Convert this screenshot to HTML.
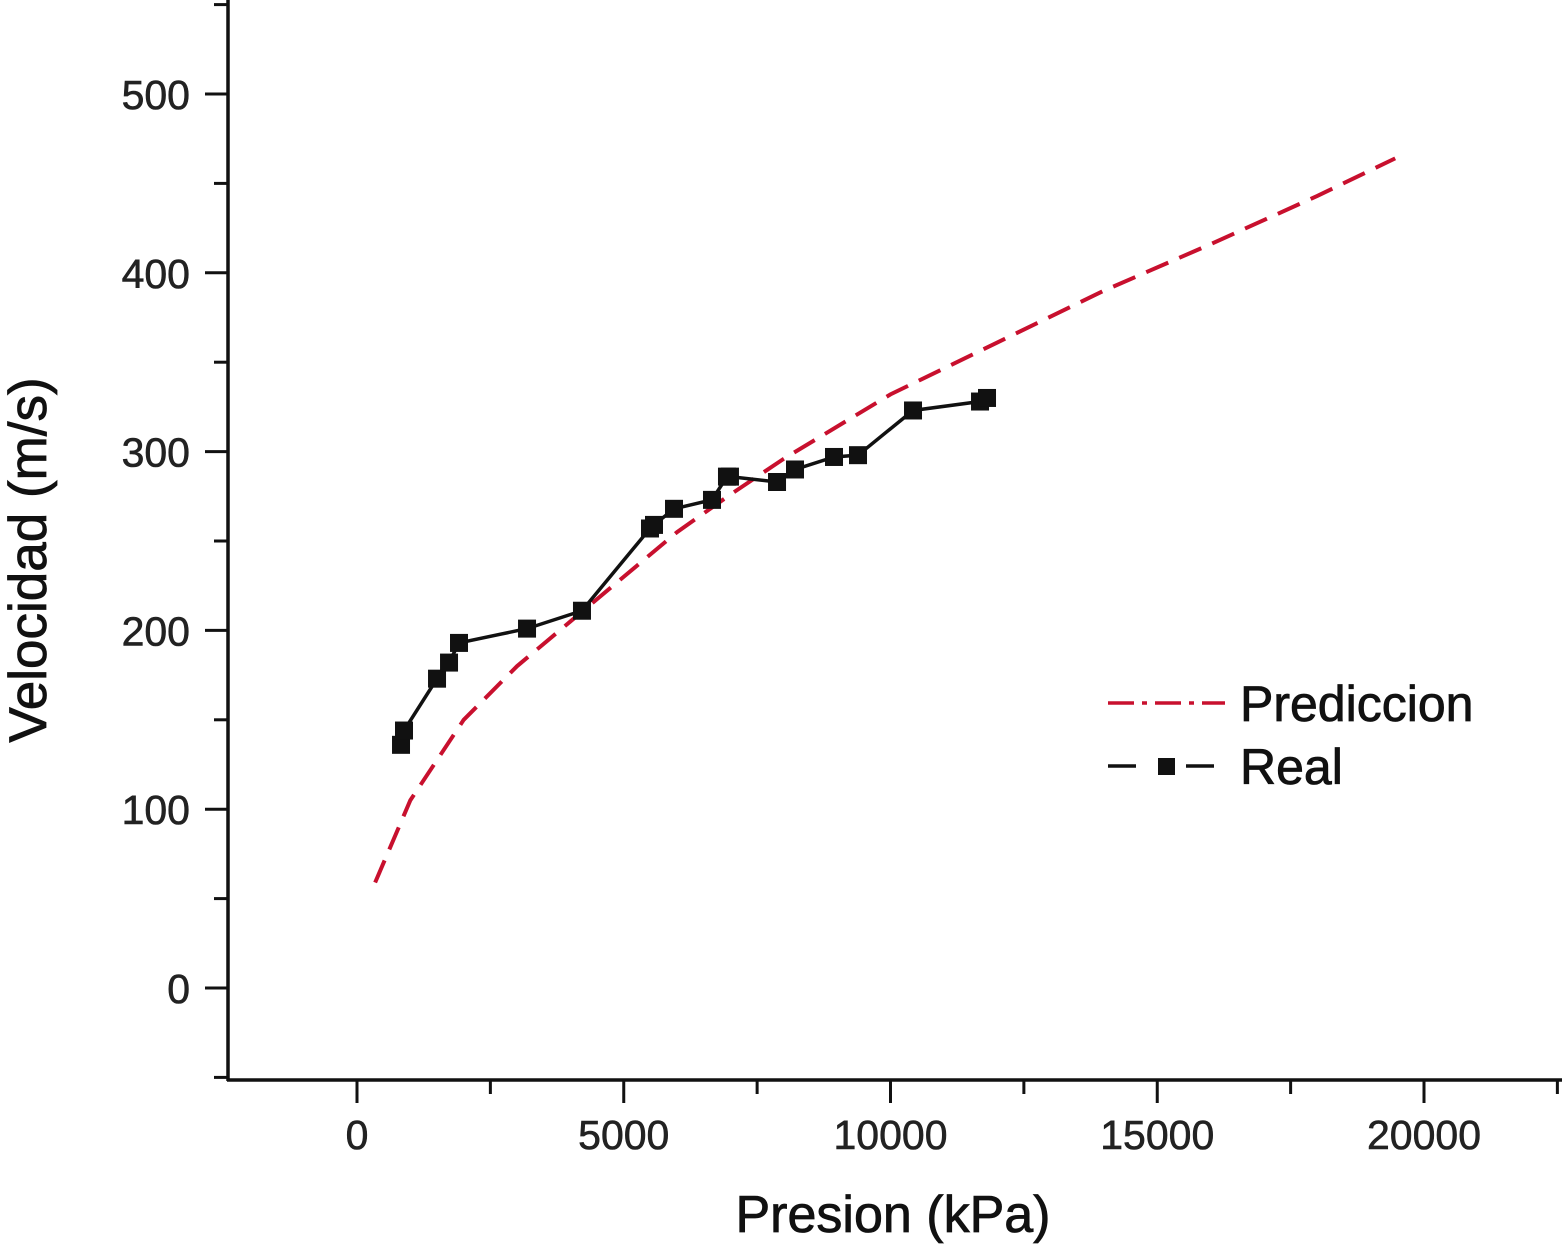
<!DOCTYPE html>
<html><head><meta charset="utf-8"><style>
html,body{margin:0;padding:0;background:#fff;}
svg{display:block;font-family:"Liberation Sans",Arial,sans-serif;}
</style></head><body>
<svg id="chart" width="1564" height="1246" viewBox="0 0 1564 1246" xmlns="http://www.w3.org/2000/svg">
<g id="axes"></g>
<g id="series"></g>
<text x="893" y="1232" font-size="52" text-anchor="middle" fill="#111" stroke="#111" stroke-width="0.8">Presion (kPa)</text>
<text transform="translate(46,560) rotate(-90)" font-size="53" text-anchor="middle" fill="#111" stroke="#111" stroke-width="0.8">Velocidad (m/s)</text>
<g>
<g>
<line x1="1108" y1="703" x2="1225" y2="703" stroke="#c8102e" stroke-width="3.5" stroke-dasharray="26,8,5,8"/>
<text x="1240" y="721" font-size="50" fill="#111" stroke="#111" stroke-width="0.8">Prediccion</text>
</g>
<g>
<line x1="1108" y1="766" x2="1136" y2="766" stroke="#111" stroke-width="3.5"/>
<line x1="1186" y1="766" x2="1214" y2="766" stroke="#111" stroke-width="3.5"/>
<rect x="1158" y="758" width="17" height="17" fill="#111"/>
<text x="1240" y="784" font-size="50" fill="#111" stroke="#111" stroke-width="0.8">Real</text>
</g>
</g>
</svg>
<script>
const xTicks=[0,5000,10000,15000,20000];
const yTicks=[0,100,200,300,400,500];
const predP=[340,1000,2000,3000,4000,5000,6000,7000,8000,10000,12000,14000,16000,18000,19460];
const predV=[59,105,150,180,205,230,255,276,296,332,361,390,416,443,464];
const realP=[825,881,1500,1725,1912,3187,4217,5492,5567,5942,6654,6935,6991,7873,8210,8941,9391,10422,11678,11809];
const realV=[136,144,173,182,193,201,211,257,259,268,273,286,286,283,290,297,298,323,328,330];
const NS="http://www.w3.org/2000/svg";
const X=p=>357+p*0.05335, Y=v=>988-v*1.788;
function mk(t,a,parent){const e=document.createElementNS(NS,t);for(const k in a)e.setAttribute(k,a[k]);parent.appendChild(e);return e;}
const ax=document.getElementById('axes'), se=document.getElementById('series');
let l=mk('line',{x1:228,y1:0,x2:228,y2:1081,stroke:'#111','stroke-width':3.5},ax);


l=mk('line',{x1:227,y1:1080,x2:1562,y2:1080,stroke:'#111','stroke-width':3.5},ax);


for(let v=-50;v<=550;v+=50){const y=Y(v);if(y<0||y>1080)continue;const maj=v%100===0;
 const t=mk('line',{x1:maj?205:214,y1:y,x2:228,y2:y,stroke:'#111','stroke-width':3},ax);
 
 }
yTicks.forEach(v=>{const t=mk('text',{x:190,y:Y(v)+15,'font-size':41,'text-anchor':'end',fill:'#222',stroke:'#222','stroke-width':0.6},ax);t.textContent=v;
 
 });
for(let p=-2500;p<=22500;p+=2500){const x=X(p);if(x<228||x>1562)continue;const maj=p%5000===0;
 const t=mk('line',{x1:x,y1:1080,x2:x,y2:maj?1103:1094,stroke:'#111','stroke-width':3},ax);
 
 }
xTicks.forEach(p=>{const t=mk('text',{x:X(p),y:1149,'font-size':41,'text-anchor':'middle',fill:'#222',stroke:'#222','stroke-width':0.6},ax);t.textContent=p;
 
 });
const pl=mk('polyline',{points:predP.map((p,i)=>X(p)+','+Y(predV[i])).join(' '),fill:'none',stroke:'#c8102e','stroke-width':4,'stroke-dasharray':'24,12'},se);


const rl=mk('polyline',{points:realP.map((p,i)=>X(p)+','+Y(realV[i])).join(' '),fill:'none',stroke:'#111','stroke-width':3.5},se);


realP.forEach((p,i)=>{const r=mk('rect',{x:X(p)-9,y:Y(realV[i])-9,width:18,height:18,fill:'#111'},se);
 
 });
</script>
</body></html>
